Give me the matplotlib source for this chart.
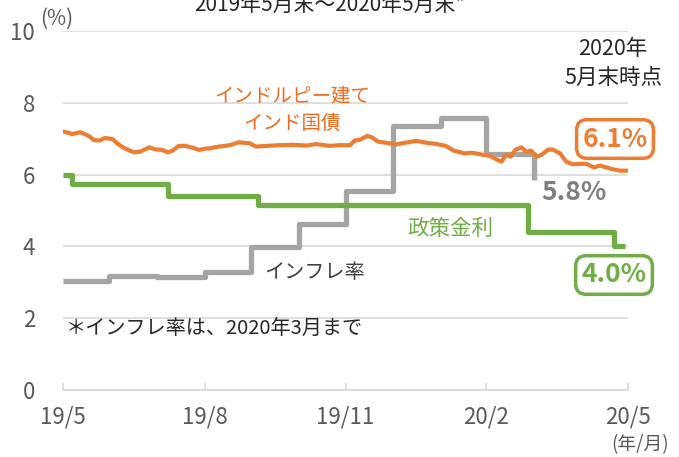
import matplotlib
matplotlib.use("Agg")
import matplotlib.pyplot as plt
import pandas as pd

plt.rcParams['font.family'] = ['Noto Sans CJK JP', 'DejaVu Sans']

# ---- data ----
bond_dates = ["2019-05-31", "2019-06-03", "2019-06-06", "2019-06-11", "2019-06-14", "2019-06-17",
              "2019-06-20", "2019-06-24", "2019-06-27", "2019-07-02", "2019-07-06", "2019-07-10",
              "2019-07-16", "2019-07-20", "2019-07-26", "2019-07-30", "2019-08-03", "2019-08-07",
              "2019-08-10", "2019-08-14", "2019-08-18", "2019-08-23", "2019-08-27", "2019-08-31",
              "2019-09-03", "2019-09-09", "2019-09-16", "2019-09-22", "2019-09-29", "2019-10-03",
              "2019-10-10", "2019-10-18", "2019-10-27", "2019-11-05", "2019-11-11", "2019-11-20",
              "2019-11-26", "2019-12-03", "2019-12-06", "2019-12-10", "2019-12-14", "2019-12-17",
              "2019-12-21", "2019-12-26", "2020-01-02", "2020-01-08", "2020-01-15", "2020-01-21",
              "2020-01-28", "2020-02-03", "2020-02-08", "2020-02-15", "2020-02-20", "2020-02-26",
              "2020-03-02", "2020-03-07", "2020-03-10", "2020-03-13", "2020-03-16", "2020-03-19",
              "2020-03-23", "2020-03-26", "2020-03-29", "2020-04-02", "2020-04-05", "2020-04-09",
              "2020-04-12", "2020-04-17", "2020-04-21", "2020-04-25", "2020-04-30", "2020-05-04",
              "2020-05-09", "2020-05-13", "2020-05-17", "2020-05-21", "2020-05-26", "2020-05-30"]
bond_yield = [7.20, 7.17, 7.13, 7.18, 7.13, 7.07,
              6.96, 6.95, 7.02, 6.99, 6.84, 6.73,
              6.62, 6.64, 6.76, 6.70, 6.69, 6.62,
              6.67, 6.80, 6.80, 6.75, 6.69, 6.72,
              6.73, 6.78, 6.82, 6.90, 6.87, 6.78,
              6.80, 6.82, 6.83, 6.81, 6.85, 6.80,
              6.82, 6.82, 6.95, 6.98, 7.08, 7.04,
              6.92, 6.89, 6.84, 6.89, 6.94, 6.89,
              6.85, 6.80, 6.67, 6.59, 6.61, 6.56,
              6.53, 6.42, 6.36, 6.55, 6.50, 6.69,
              6.76, 6.64, 6.67, 6.50, 6.55, 6.69,
              6.70, 6.59, 6.36, 6.29, 6.30, 6.30,
              6.20, 6.25, 6.20, 6.15, 6.11, 6.11]

cpi_dates = ["2019-05-31", "2019-06-30", "2019-07-31", "2019-08-31", "2019-09-30", "2019-10-31",
             "2019-11-30", "2019-12-31", "2020-01-31", "2020-02-29", "2020-03-31"]
cpi_values = [3.05, 3.18, 3.15, 3.28, 3.99, 4.62, 5.54, 7.35, 7.59, 6.58, 5.84]

rate_dates = ["2019-05-31", "2019-06-06", "2019-08-07", "2019-10-04", "2020-03-27", "2020-05-22", "2020-05-29"]
rate_values = [6.00, 5.75, 5.40, 5.15, 4.40, 4.00, 4.00]

xtick_dates = ["2019-05-31", "2019-08-31", "2019-11-30", "2020-02-29", "2020-05-31"]
xtick_labels = ["19/5", "19/8", "19/11", "20/2", "20/5"]
yticks = [0, 2, 4, 6, 8, 10]

ORANGE = "#ED7D31"
GRAY = "#A5A5A5"
GREEN = "#70AD47"
TXT = "#595959"

fig = plt.figure(figsize=(6.79, 4.57), dpi=100)
ax = fig.add_axes([63/679, 1-390/457, 565/679, 359/457])

ax.plot(pd.to_datetime(cpi_dates), cpi_values, drawstyle="steps-post", color=GRAY, lw=3.8,
        solid_joinstyle="round", solid_capstyle="butt", zorder=3)
ax.plot(pd.to_datetime(rate_dates), rate_values, drawstyle="steps-post", color=GREEN, lw=3.8,
        solid_joinstyle="round", solid_capstyle="butt", zorder=3)
ax.plot(pd.to_datetime(bond_dates), bond_yield, color=ORANGE, lw=3.0,
        solid_joinstyle="round", zorder=4)

ax.set_xlim(pd.Timestamp("2019-05-31"), pd.Timestamp("2020-05-31"))
ax.set_ylim(0, 10)
ax.set_yticks(yticks)
ax.set_yticklabels([str(v) for v in yticks])
ax.set_xticks(pd.to_datetime(xtick_dates))
ax.set_xticklabels(xtick_labels)
ax.grid(axis="y", color="#D9D9D9", lw=1.2, zorder=0)
for s in ["top", "right", "left"]:
    ax.spines[s].set_visible(False)
ax.spines["bottom"].set_color("#D9D9D9")
ax.spines["bottom"].set_linewidth(1.2)
ax.tick_params(axis="y", length=0, pad=20, labelsize=16, labelcolor=TXT)
ax.tick_params(axis="x", direction="in", length=5, width=1.2, color="#D9D9D9",
               pad=11, labelsize=16, labelcolor=TXT)

# text annotations (figure pixel coordinates)
def ftext(x, y, s, **kw):
    fig.text(x/679, 1-y/457, s, **kw)

ftext(330, 5, "2019年5月末～2020年5月末*", ha="center", va="center", fontsize=15, color="#262626")
ftext(40, 19, "(%)", ha="left", va="center", fontsize=15, color=TXT)
ftext(640, 445, "(年/月)", ha="center", va="center", fontsize=13.5, color=TXT)
ftext(613, 49, "2020年", ha="center", va="center", fontsize=15.5, color="#262626")
ftext(613, 78, "5月末時点", ha="center", va="center", fontsize=15.5, color="#262626")
ftext(292, 96, "インドルピー建て", ha="center", va="center", fontsize=14, color="#EE6A1F")
ftext(292, 123, "インド国債", ha="center", va="center", fontsize=14, color="#EE6A1F")
ftext(450, 229, "政策金利", ha="center", va="center", fontsize=15.5, color=GREEN)
ftext(315, 272, "インフレ率", ha="center", va="center", fontsize=14.5, color="#404040")
ftext(66, 329, "＊インフレ率は、2020年3月まで", ha="left", va="center", fontsize=14.5, color="#262626")
ftext(574, 192, "5.8%", ha="center", va="center", fontsize=19, fontweight="bold", color="#7F7F7F")
ftext(615, 139, "6.1%", ha="center", va="center", fontsize=19, fontweight="bold", color=ORANGE,
      bbox=dict(boxstyle="round,pad=0.22,rounding_size=0.4", fc="white", ec=ORANGE, lw=2.5))
ftext(614, 275, "4.0%", ha="center", va="center", fontsize=19, fontweight="bold", color=GREEN,
      bbox=dict(boxstyle="round,pad=0.22,rounding_size=0.4", fc="white", ec=GREEN, lw=2.5))

fig.savefig("out.png", dpi=100)
